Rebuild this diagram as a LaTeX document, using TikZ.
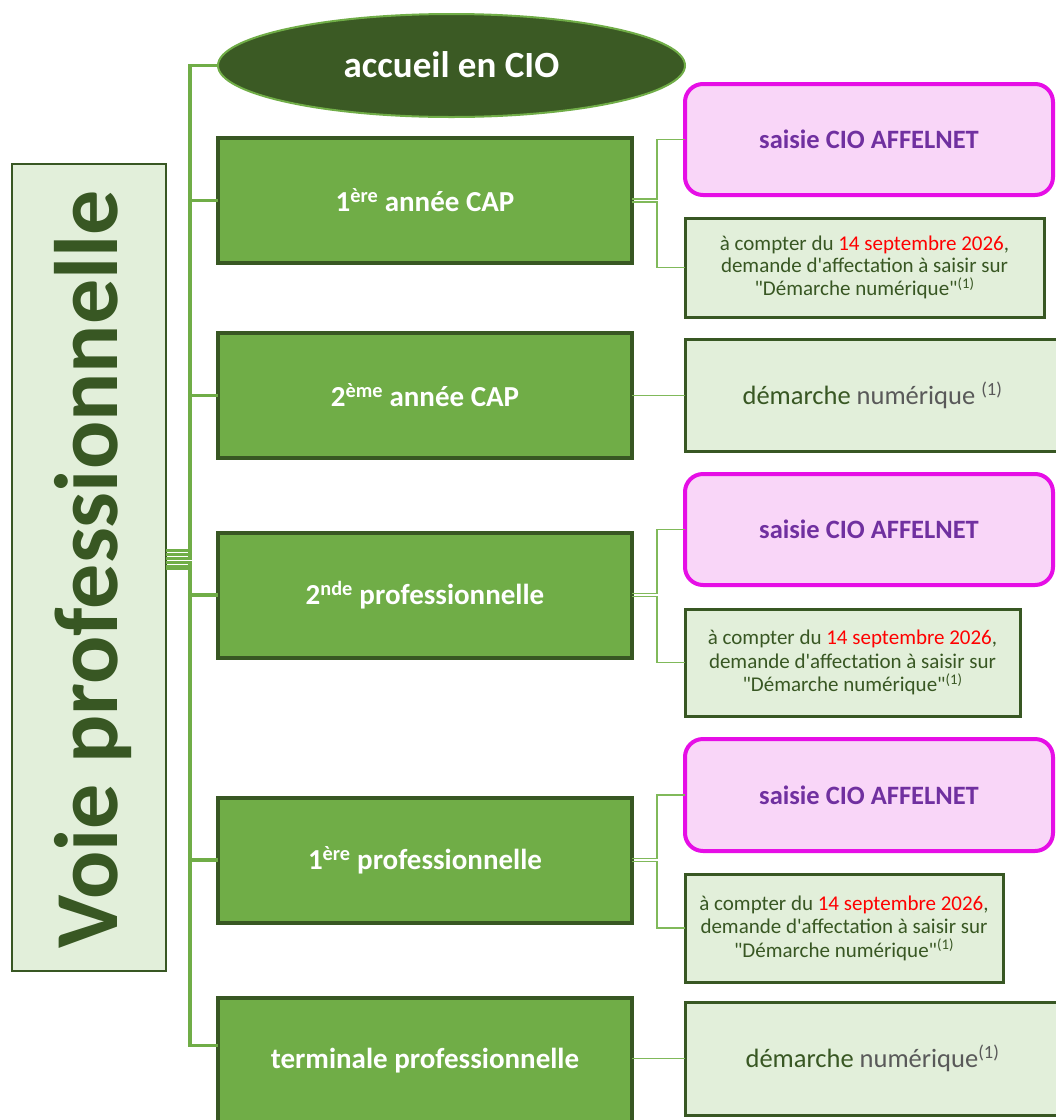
\documentclass[tikz,border=0pt]{standalone}
\usepackage{fontspec}
\setmainfont{Carlito}
\newfontfamily\nomap{Carlito}
\usetikzlibrary{shapes.geometric}
\definecolor{dkgreen}{HTML}{385723}
\definecolor{midgreen}{HTML}{70AD47}
\definecolor{ltgreen}{HTML}{E2EFDA}
\definecolor{ellfill}{HTML}{3B5A24}
\definecolor{pinkF}{HTML}{F9D6F8}
\definecolor{magB}{HTML}{E60EE6}
\definecolor{purpleT}{HTML}{7030A0}
\definecolor{greyT}{HTML}{595959}
\definecolor{branchg}{HTML}{80B95A}
\newcommand{\apos}{{\nomap\symbol{39}}}
\newcommand{\dq}{{\nomap\symbol{34}}}
\begin{document}
\begin{tikzpicture}[x=1pt,y=-1pt,
  every node/.style={inner sep=0, outer sep=0},
  mainbox/.style={draw=dkgreen, line width=4, fill=midgreen, minimum width=414, minimum height=125,
    text=white, font=\fontsize{29}{34}\selectfont\bfseries},
  pinkbox/.style={draw=magB, line width=4, fill=pinkF, rounded corners=18, minimum width=368, minimum height=111,
    text=purpleT, font=\fontsize{26.5}{30}\selectfont\bfseries},
  infobox/.style={draw=dkgreen, line width=3, fill=ltgreen, text=dkgreen, align=center,
    font=\fontsize{21}{23.5}\selectfont},
  demarchebox/.style={draw=dkgreen, line width=3, fill=ltgreen, text=dkgreen,
    font=\fontsize{26.5}{30}\selectfont},
  trunkline/.style={draw=midgreen, line width=3.5},
  branch/.style={draw=branchg, line width=1.5}]
\clip (0,0) rectangle (1056,1120);
\fill[white] (0,0) rectangle (1056,1120);

% title
\node[draw=dkgreen, line width=2.5, fill=ltgreen, minimum width=154, minimum height=807] (T) at (89,567.5) {};
\node[rotate=90, text=dkgreen, font=\fontsize{90}{90}\selectfont\bfseries] (Tt) at (93,569.5) {Voie professionnelle};

% ellipse
\node[ellipse, draw=midgreen, line width=2, fill=ellfill, minimum width=467, minimum height=103,
  text=white, font=\fontsize{37}{40}\selectfont\bfseries] (E) at (451.5,65.5) {\raisebox{2pt}{accueil en CIO}};

% main boxes
\node[mainbox] (B1) at (425,200.5) {1\textsuperscript{ère} année CAP};
\node[mainbox] (B2) at (425,395.5) {2\textsuperscript{ème} année CAP};
\node[mainbox] (B3) at (425,595) {2\textsuperscript{nde} professionnelle};
\node[mainbox] (B4) at (425,860) {1\textsuperscript{ère} professionnelle};
\node[mainbox] (B5) at (425,1060.5) {terminale professionnelle};

% right boxes
\node[pinkbox] (P1) at (869,139.5) {saisie CIO AFFELNET};
\node[infobox, minimum width=359, minimum height=99] (I1) at (864.5,267.5)
  {\raisebox{-2pt}{à compter du \textcolor{red}{14 septembre 2026},}\\demande d\apos affectation à saisir sur\\\dq Démarche numérique\dq\textsuperscript{(1)}};
\node[demarchebox, minimum width=375, minimum height=112] (D2) at (872.5,395)
  {démarche \textcolor{greyT}{numérique \textsuperscript{(1)}}};
\node[pinkbox] (P2) at (869,529.5) {saisie CIO AFFELNET};
\node[infobox, minimum width=335, minimum height=107] (I2) at (852.5,662.5)
  {à compter du \textcolor{red}{14 septembre 2026},\\demande d\apos affectation à saisir sur\\\dq Démarche numérique\dq\textsuperscript{(1)}};
\node[pinkbox, minimum height=112] (P3) at (869,795) {saisie CIO AFFELNET};
\node[infobox, minimum width=318, minimum height=108] (I3) at (844,928)
  {à compter du \textcolor{red}{14 septembre 2026},\\demande d\apos affectation à saisir sur\\\dq Démarche numérique\dq\textsuperscript{(1)}};
\node[demarchebox, minimum width=375, minimum height=113] (D5) at (872.5,1058.5)
  {démarche \textcolor{greyT}{numérique\textsuperscript{(1)}}};

% trunk connectors
\draw[trunkline] ([yshift=17]T.east) -- ++(24,0) |- (E.west);
\draw[trunkline] ([yshift=13]T.east) -- ++(24,0) |- (B1.west);
\draw[trunkline] ([yshift=9]T.east) -- ++(24,0) |- (B2.west);
\draw[trunkline] ([yshift=5]T.east) -- ++(24,0) |- (B3.west);
\draw[trunkline] ([yshift=1]T.east) -- ++(24,0) |- (B4.west);
\draw[trunkline] ([yshift=-1]T.east) -- ++(24,0) |- ([yshift=15]B5.west);

% right connectors
\draw[branch] ([yshift=1.5]B1.east) -- ++(25,0) |- (P1.west);
\draw[branch] ([yshift=-1.5]B1.east) -- ++(25,0) |- (I1.west);
\draw[branch] (B2.east) -- (B2.east -| D2.west);
\draw[branch] ([yshift=1.5]B3.east) -- ++(25,0) |- (P2.west);
\draw[branch] ([yshift=-1.5]B3.east) -- ++(25,0) |- (I2.west);
\draw[branch] ([yshift=1.5]B4.east) -- ++(25,0) |- (P3.west);
\draw[branch] ([yshift=-1.5]B4.east) -- ++(25,0) |- (I3.west);
\draw[branch] ([yshift=2]B5.east) -- (D5.west);
\end{tikzpicture}
\end{document}
